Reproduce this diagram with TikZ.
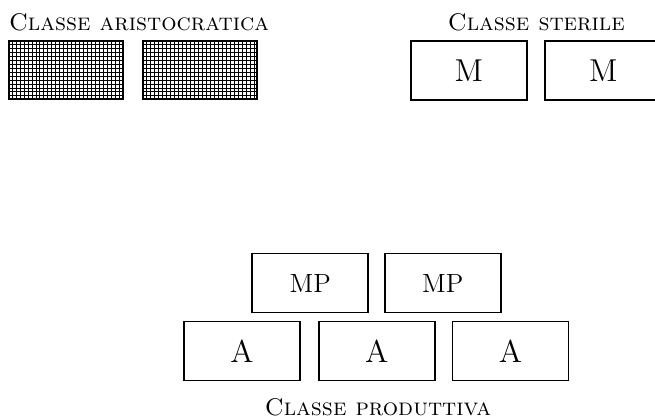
\documentclass[tikz,border=0pt]{standalone}
\usetikzlibrary{calc}

\tikzset{
  unit/.style={draw, thick, rectangle, inner sep=0pt,
    minimum width=52.8pt, minimum height=26.8pt, font=\fontsize{14.4}{17}\selectfont},
  smallunit/.style={unit, font=\fontsize{12}{14}\selectfont},
  aristo/.style={draw, thick, rectangle, inner sep=0pt,
    minimum width=51.9pt, minimum height=26.4pt},
  classlabel/.style={anchor=base, inner sep=0pt, font=\fontsize{10.95}{13}\selectfont\scshape},
  gridline/.style={line width=0.4pt}
}

\begin{document}
\begin{tikzpicture}[x=0.455pt, y=-0.455pt]
  \useasboundingbox (0,0) rectangle (655,417);
  \clip (0,0) rectangle (655,417);

  % aristocratic class: two hatched plots
  \node[classlabel] (laristo) at (139,30.5) {Classe aristocratica};
  \node[aristo] (ar1) at (65.9,70) {};
  \node[aristo] (ar2) at (200.3,70) {};
  \foreach \b in {ar1,ar2} {
    \foreach \i in {1,...,28}
      \draw[gridline] ($(\b.north west)!\i/29!(\b.north east)$) --
                      ($(\b.south west)!\i/29!(\b.south east)$);
    \foreach \j in {1,...,14}
      \draw[gridline] ($(\b.north west)!\j/15!(\b.south west)$) --
                      ($(\b.north east)!\j/15!(\b.south east)$);
  }

  % sterile class
  \node[classlabel] (lsterile) at (536.3,30.7) {Classe sterile};
  \node[unit] (m1) at (468.7,70.3) {M};
  \node[unit] (m2) at (603.3,70.3) {M};

  % productive class
  \node[smallunit] (mp1) at (310.3,283) {MP};
  \node[smallunit] (mp2) at (442.7,283) {MP};
  \node[unit] (a1) at (242,351) {A};
  \node[unit] (a2) at (376.7,351) {A};
  \node[unit] (a3) at (510.5,351) {A};
  \node[classlabel] (lprod) at (378,415) {Classe produttiva};
\end{tikzpicture}
\end{document}
